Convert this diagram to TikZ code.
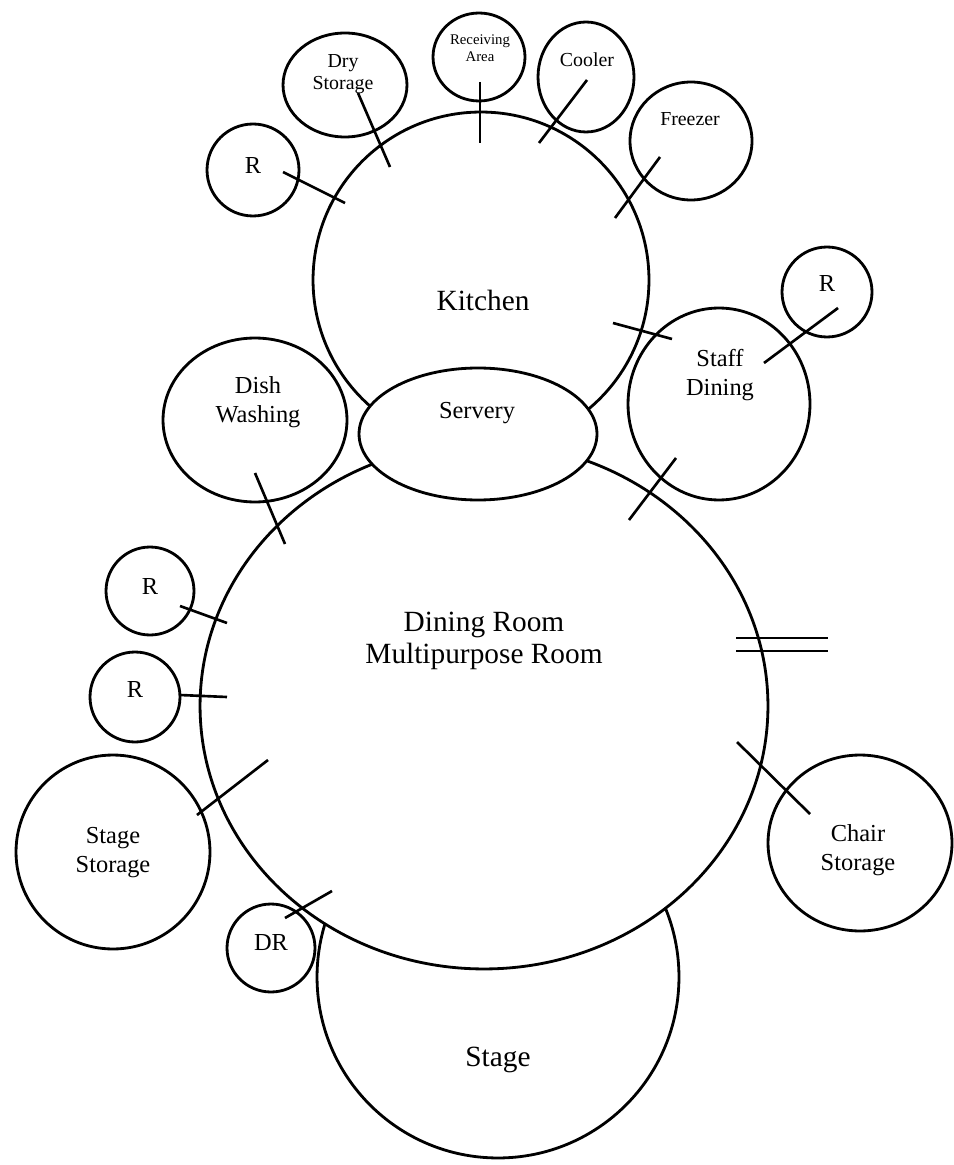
\documentclass[tikz,border=0pt]{standalone}
\usepackage{fontspec}
\setmainfont{Liberation Serif}
\usepackage{tikz}
\usetikzlibrary{shapes.geometric}

\tikzset{
  room/.style={ellipse, draw=black, line width=1.6pt, inner sep=0pt, outer sep=0pt},
  bigtxt/.style={font=\fontsize{16.7}{18}\selectfont, align=center, inner sep=0pt},
  midtxt/.style={font=\fontsize{13.9}{16.5}\selectfont, align=center, inner sep=0pt},
  smalltxt/.style={font=\fontsize{11.3}{12.5}\selectfont, align=center, inner sep=0pt},
  tinytxt/.style={font=\fontsize{8.4}{9.6}\selectfont, align=center, inner sep=0pt},
  link/.style={line width=1.5pt}
}

\begin{document}
\begin{tikzpicture}[x=0.02cm, y=-0.02cm]
   \useasboundingbox (0,0) rectangle (953,1165);

   %big rooms, back to front
   \node[room, minimum width=7.24cm, minimum height=7.24cm] (stage) at (498,977) {};
   \node[room, minimum width=6.72cm, minimum height=6.72cm] (kitchen) at (481,280) {};
   \node[room, fill=white, minimum width=11.36cm, minimum height=10.52cm] (dining) at (484,706) {};
   \node[room, fill=white, minimum width=4.76cm, minimum height=2.64cm] (servery) at (478,434) {};

   %rooms round the kitchen
   \node[room, minimum width=1.84cm, minimum height=1.84cm] (rk) at (253,170) {};
   \node[room, minimum width=2.48cm, minimum height=2.08cm] (dry) at (345,85) {};
   \node[room, minimum width=1.84cm, minimum height=1.76cm] (recv) at (479,57) {};
   \node[room, minimum width=1.92cm, minimum height=2.2cm] (cooler) at (586,77) {};
   \node[room, minimum width=2.44cm, minimum height=2.36cm] (freezer) at (691,141) {};
   \node[room, minimum width=3.68cm, minimum height=3.28cm] (dish) at (255,420) {};
   \node[room, minimum width=3.64cm, minimum height=3.84cm] (staff) at (719,404) {};
   \node[room, minimum width=1.8cm, minimum height=1.8cm] (rs) at (827,292) {};

   %rooms round the dining room
   \node[room, minimum width=1.76cm, minimum height=1.76cm] (r1) at (150,591) {};
   \node[room, minimum width=1.8cm, minimum height=1.8cm] (r2) at (135,697) {};
   \node[room, minimum width=3.88cm, minimum height=3.88cm] (ststore) at (113,852) {};
   \node[room, minimum width=1.76cm, minimum height=1.76cm] (dr) at (271,948) {};
   \node[room, minimum width=3.68cm, minimum height=3.52cm] (chair) at (860,843) {};

   %labels
   \node[bigtxt] (kitchent) at (483,300) {Kitchen};
   \node[bigtxt] (diningt) at (484,641) {Dining Room\\Multipurpose Room};
   \node[bigtxt] (staget) at (498,1060) {Stage};
   \node[midtxt] (serveryt) at (477,413) {Servery};
   \node[midtxt] (disht) at (258,402) {Dish\\Washing};
   \node[midtxt] (stafft) at (720,375) {Staff\\Dining};
   \node[midtxt] (ststoret) at (113,853) {Stage\\Storage};
   \node[midtxt] (chairt) at (858,850) {Chair\\Storage};
   \node[midtxt] (rkt) at (253,166) {R};
   \node[midtxt] (rst) at (827,284) {R};
   \node[midtxt] (r1t) at (150,586) {R};
   \node[midtxt] (r2t) at (135,689) {R};
   \node[midtxt] (drt) at (271,943) {DR};
   \node[smalltxt] (dryt) at (343,74) {Dry\\Storage};
   \node[smalltxt] (coolert) at (587,60) {Cooler};
   \node[smalltxt] (freezert) at (690,119) {Freezer};
   \node[tinytxt] (recvt) at (480,48) {Receiving\\Area};

   %link ends
   \coordinate (rk1) at (283,172);   \coordinate (rk2) at (345,203);
   \coordinate (dry1) at (358,93);   \coordinate (dry2) at (390,167);
   \coordinate (recv1) at (480,82);  \coordinate (recv2) at (480,143);
   \coordinate (cool1) at (587,80);  \coordinate (cool2) at (539,143);
   \coordinate (frz1) at (660,157);  \coordinate (frz2) at (615,218);
   \coordinate (stf1) at (613,323);  \coordinate (stf2) at (672,339);
   \coordinate (rs1) at (838,308);   \coordinate (rs2) at (764,363);
   \coordinate (stf3) at (676,458);  \coordinate (stf4) at (629,520);
   \coordinate (dish1) at (255,473); \coordinate (dish2) at (285,544);
   \coordinate (r11) at (180,606);   \coordinate (r12) at (227,623);
   \coordinate (r21) at (180,695);   \coordinate (r22) at (227,697);
   \coordinate (sst1) at (268,760);  \coordinate (sst2) at (197,815);
   \coordinate (dr1) at (332,891);   \coordinate (dr2) at (285,918);
   \coordinate (ch1) at (737,742);   \coordinate (ch2) at (810,814);
   \coordinate (dbl1) at (736,638);  \coordinate (dbl2) at (828,638);
   \coordinate (dbl3) at (736,651);  \coordinate (dbl4) at (828,651);

  \path[link]
    %kitchen
    (rk1) edge (rk2)
    (dry1) edge (dry2)
    (recv1) edge (recv2)
    (cool1) edge (cool2)
    (frz1) edge (frz2)
    (stf1) edge (stf2)
    %staff dining
    (rs1) edge (rs2)
    (stf3) edge (stf4)
    %dining room
    (dish1) edge (dish2)
    (r11) edge (r12)
    (r21) edge (r22)
    (sst1) edge (sst2)
    (dr1) edge (dr2)
    (ch1) edge (ch2);

  %double line at the right
  \path[line width=1pt]
    (dbl1) edge (dbl2)
    (dbl3) edge (dbl4);
  \end{tikzpicture}
\end{document}
